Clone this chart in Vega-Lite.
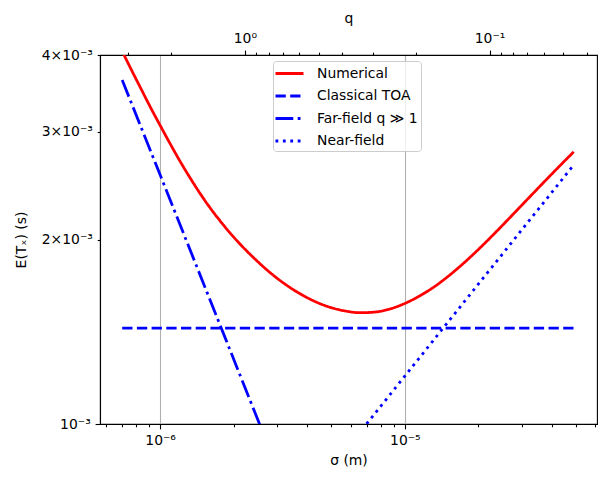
{
  "$schema": "https://vega.github.io/schema/vega-lite/v6.json",
  "width": 497,
  "height": 369,
  "autosize": {"type": "none"},
  "padding": {"left": 100, "top": 55, "right": 8, "bottom": 60},
  "config": {
    "font": "DejaVu Sans",
    "view": {"stroke": "black", "strokeWidth": 1.1},
    "axis": {
      "domainColor": "black",
      "domainWidth": 1.1,
      "tickColor": "black",
      "tickWidth": 1.1,
      "labelColor": "black",
      "labelFontSize": 13.9,
      "titleFontSize": 13.9,
      "titleFontWeight": "normal",
      "titleColor": "black",
      "labelPadding": 4.9,
      "labelOverlap": false,
      "labelFlush": false,
      "gridColor": "#b0b0b0",
      "gridWidth": 1.1
    },
    "legend": {
      "orient": "none",
      "legendX": 173,
      "legendY": 6,
      "fillColor": "rgba(255,255,255,0.8)",
      "strokeColor": "#cccccc",
      "cornerRadius": 3,
      "padding": 3,
      "labelFontSize": 13.9,
      "labelColor": "black",
      "symbolType": "M-1.75,0H1.75",
      "symbolSize": 256,
      "symbolStrokeWidth": 2.78,
      "rowPadding": 5.5,
      "labelOffset": 18,
      "symbolOffset": 4
    }
  },
  "datasets": {
    "curves": [
      {"series": "Numerical", "sigma": 7.0e-7, "value": 0.004057},
      {"series": "Numerical", "sigma": 7.61e-7, "value": 0.003792},
      {"series": "Numerical", "sigma": 8.28e-7, "value": 0.003548},
      {"series": "Numerical", "sigma": 9.09e-7, "value": 0.003298},
      {"series": "Numerical", "sigma": 1.0e-6, "value": 0.003071},
      {"series": "Numerical", "sigma": 1.098e-6, "value": 0.002868},
      {"series": "Numerical", "sigma": 1.206e-6, "value": 0.002684},
      {"series": "Numerical", "sigma": 1.326e-6, "value": 0.002521},
      {"series": "Numerical", "sigma": 1.456e-6, "value": 0.002378},
      {"series": "Numerical", "sigma": 1.6e-6, "value": 0.002253},
      {"series": "Numerical", "sigma": 1.758e-6, "value": 0.002145},
      {"series": "Numerical", "sigma": 1.931e-6, "value": 0.00205},
      {"series": "Numerical", "sigma": 2.122e-6, "value": 0.001966},
      {"series": "Numerical", "sigma": 2.444e-6, "value": 0.001858},
      {"series": "Numerical", "sigma": 2.815e-6, "value": 0.001766},
      {"series": "Numerical", "sigma": 3.242e-6, "value": 0.001691},
      {"series": "Numerical", "sigma": 3.735e-6, "value": 0.001631},
      {"series": "Numerical", "sigma": 4.301e-6, "value": 0.001584},
      {"series": "Numerical", "sigma": 4.955e-6, "value": 0.00155},
      {"series": "Numerical", "sigma": 5.704e-6, "value": 0.001529},
      {"series": "Numerical", "sigma": 6.569e-6, "value": 0.001519},
      {"series": "Numerical", "sigma": 7.565e-6, "value": 0.001523},
      {"series": "Numerical", "sigma": 8.717e-6, "value": 0.001541},
      {"series": "Numerical", "sigma": 1.0037e-5, "value": 0.001574},
      {"series": "Numerical", "sigma": 1.1561e-5, "value": 0.00162},
      {"series": "Numerical", "sigma": 1.3317e-5, "value": 0.001679},
      {"series": "Numerical", "sigma": 1.5337e-5, "value": 0.001753},
      {"series": "Numerical", "sigma": 1.766e-5, "value": 0.00184},
      {"series": "Numerical", "sigma": 2.0345e-5, "value": 0.00194},
      {"series": "Numerical", "sigma": 2.3428e-5, "value": 0.002052},
      {"series": "Numerical", "sigma": 2.6985e-5, "value": 0.002175},
      {"series": "Numerical", "sigma": 3.1077e-5, "value": 0.002307},
      {"series": "Numerical", "sigma": 3.5802e-5, "value": 0.002447},
      {"series": "Numerical", "sigma": 4.1878e-5, "value": 0.00261},
      {"series": "Numerical", "sigma": 4.9e-5, "value": 0.00278},
      {"series": "Classical TOA", "sigma": 7e-7, "value": 0.001434},
      {"series": "Classical TOA", "sigma": 4.9e-5, "value": 0.001434},
      {"series": "Far-field q ≫ 1", "sigma": 7e-7, "value": 0.00364},
      {"series": "Far-field q ≫ 1", "sigma": 1e-6, "value": 0.00255},
      {"series": "Far-field q ≫ 1", "sigma": 2.6e-6, "value": 0.00098},
      {"series": "Far-field q ≫ 1", "sigma": 4.9e-5, "value": 0.000052},
      {"series": "Near-field", "sigma": 7e-7, "value": 0.000316},
      {"series": "Near-field", "sigma": 7.4e-6, "value": 0.00103},
      {"series": "Near-field", "sigma": 1.435e-5, "value": 0.001434},
      {"series": "Near-field", "sigma": 4.9e-5, "value": 0.002646}
    ],
    "qticks": [
      {"q": 1},
      {"q": 0.1}
    ]
  },
  "layer": [
    {
      "data": {"name": "curves"},
      "mark": {
        "type": "line",
        "strokeWidth": 2.78,
        "clip": true,
        "interpolate": "monotone",
        "strokeCap": "butt"
      },
      "encoding": {
        "x": {
          "field": "sigma",
          "type": "quantitative",
          "scale": {"type": "log", "domain": [5.68e-7, 6.1e-5], "nice": false},
          "axis": {
            "values": [6e-7, 7e-7, 8e-7, 9e-7, 1e-6, 2e-6, 3e-6, 4e-6, 5e-6, 6e-6, 7e-6, 8e-6, 9e-6, 1e-5, 2e-5, 3e-5, 4e-5, 5e-5, 6e-5],
            "labelExpr": "abs(datum.value - 1e-6) < 1e-9 ? '10⁻⁶' : abs(datum.value - 1e-5) < 1e-8 ? '10⁻⁵' : ''",
            "tickSize": {"condition": {"test": "abs(datum.value - 1e-6) < 1e-9 || abs(datum.value - 1e-5) < 1e-8", "value": 4.9}, "value": 2.8},
            "grid": true,
            "gridOpacity": {"condition": {"test": "abs(datum.value - 1e-6) < 1e-9 || abs(datum.value - 1e-5) < 1e-8", "value": 1}, "value": 0},
            "title": "σ (m)",
            "titlePadding": 6
          }
        },
        "y": {
          "field": "value",
          "type": "quantitative",
          "scale": {"type": "log", "domain": [0.001, 0.004], "nice": false},
          "axis": {
            "values": [0.001, 0.002, 0.003, 0.004],
            "labelExpr": "datum.value < 0.0015 ? '10⁻³' : round(datum.value * 1000) + '×10⁻³'",
            "tickSize": {"condition": {"test": "datum.value < 0.0015", "value": 4.9}, "value": 2.8},
            "grid": false,
            "title": "E(Tₓ) (s)",
            "titlePadding": 13
          }
        },
        "color": {
          "field": "series",
          "type": "nominal",
          "sort": ["Numerical", "Classical TOA", "Far-field q ≫ 1", "Near-field"],
          "scale": {
            "domain": ["Numerical", "Classical TOA", "Far-field q ≫ 1", "Near-field"],
            "range": ["#ff0000", "#0000ff", "#0000ff", "#0000ff"]
          },
          "legend": {"title": null}
        },
        "strokeDash": {
          "field": "series",
          "type": "nominal",
          "sort": ["Numerical", "Classical TOA", "Far-field q ≫ 1", "Near-field"],
          "scale": {
            "domain": ["Numerical", "Classical TOA", "Far-field q ≫ 1", "Near-field"],
            "range": [[1, 0], [10.3, 4.4], [17.8, 4.4, 2.8, 4.4], [2.8, 4.6]]
          },
          "legend": {"title": null}
        }
      }
    },
    {
      "data": {"name": "qticks"},
      "mark": {"type": "point", "opacity": 0},
      "encoding": {
        "x": {
          "field": "q",
          "type": "quantitative",
          "scale": {"type": "log", "domain": [0.03639, 3.908], "reverse": true, "nice": false},
          "axis": {
            "orient": "top",
            "values": [0.04, 0.05, 0.06, 0.07, 0.08, 0.09, 0.1, 0.2, 0.3, 0.4, 0.5, 0.6, 0.7, 0.8, 0.9, 1, 2, 3],
            "labelExpr": "abs(datum.value - 1) < 1e-6 ? '10⁰' : abs(datum.value - 0.1) < 1e-7 ? '10⁻¹' : ''",
            "tickSize": {"condition": {"test": "abs(datum.value - 1) < 1e-6 || abs(datum.value - 0.1) < 1e-7", "value": 4.9}, "value": 2.8},
            "grid": false,
            "title": "q",
            "titlePadding": 6
          }
        }
      }
    }
  ],
  "resolve": {"scale": {"x": "independent"}, "axis": {"x": "independent"}}
}
